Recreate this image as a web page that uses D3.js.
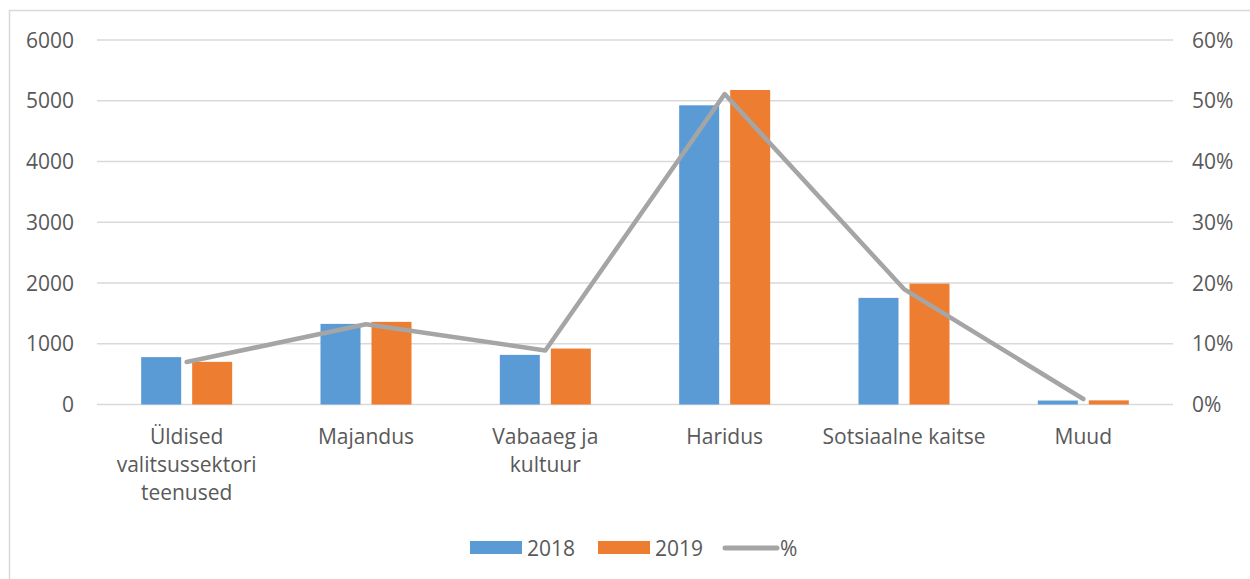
<!DOCTYPE html>
<html>
<head>
<meta charset="utf-8">
<script src="https://cdn.jsdelivr.net/npm/d3@7"></script>
<style>
  body { margin: 0; background: #fff; }
  text { font-family: "Open Sans", sans-serif; fill: #595959; }
</style>
</head>
<body>
<div id="chart"></div>
<script>
// chart data
const categories = [
  ["Üldised", "valitsussektori", "teenused"],
  ["Majandus"],
  ["Vabaaeg ja", "kultuur"],
  ["Haridus"],
  ["Sotsiaalne kaitse"],
  ["Muud"]
];
const values2018 = [780, 1327, 817, 4925, 1755, 65];
const values2019 = [702, 1360, 921, 5177, 1990, 68];
const percent = [0.07, 0.132, 0.089, 0.511, 0.19, 0.009];
const leftTicks = [0, 1000, 2000, 3000, 4000, 5000, 6000];
const rightTicks = [0, 0.1, 0.2, 0.3, 0.4, 0.5, 0.6];

const width = 1250, height = 579;
const margin = {top: 40, left: 97, right: 80, bottom: 174.5};
const blue = "#5b9bd5", orange = "#ed7d31", grey = "#a5a5a5";
const fontSize = "21px";

let svg = d3.select("#chart").append("svg")
  .attr("width", width)
  .attr("height", height);

// outer frame (only top and left visible)
svg.append("rect")
  .attr("x", 9.5).attr("y", 10.5)
  .attr("width", 1300).attr("height", 700)
  .style("fill", "none")
  .style("stroke", "#d9d9d9")
  .style("stroke-width", "1.5px");

let x0 = d3.scaleBand()
  .domain(d3.range(categories.length))
  .range([margin.left, width - margin.right + 3]);

let yLeft = d3.scaleLinear()
  .domain([0, 6000])
  .range([height - margin.bottom, margin.top]);

let yRight = d3.scaleLinear()
  .domain([0, 0.6])
  .range([height - margin.bottom, margin.top]);

// gridlines
svg.append("g").selectAll("line")
  .data(leftTicks).enter().append("line")
  .attr("x1", x0.range()[0])
  .attr("x2", x0.range()[1])
  .attr("y1", d => yLeft(d))
  .attr("y2", d => yLeft(d))
  .style("stroke", "#d9d9d9")
  .style("stroke-width", "1.5px");

// left axis labels
svg.append("g").selectAll("text")
  .data(leftTicks).enter().append("text")
  .attr("x", 74)
  .attr("y", d => yLeft(d))
  .attr("dy", "0.36em")
  .attr("text-anchor", "end")
  .style("font-size", fontSize)
  .text(d => d);

// right axis labels
svg.append("g").selectAll("text")
  .data(rightTicks).enter().append("text")
  .attr("x", 1192)
  .attr("y", d => yRight(d))
  .attr("dy", "0.36em")
  .style("font-size", fontSize)
  .text(d => Math.round(d * 100) + "%");

// bars
const barW = 40, gap = 11;
let bars = svg.append("g");
bars.selectAll(".b2018")
  .data(values2018).enter().append("rect")
  .attr("x", (d, i) => x0(i) + x0.bandwidth() / 2 - gap / 2 - barW)
  .attr("y", d => yLeft(d))
  .attr("width", barW)
  .attr("height", d => yLeft(0) - yLeft(d))
  .style("fill", blue);
bars.selectAll(".b2019")
  .data(values2019).enter().append("rect")
  .attr("x", (d, i) => x0(i) + x0.bandwidth() / 2 + gap / 2)
  .attr("y", d => yLeft(d))
  .attr("width", barW)
  .attr("height", d => yLeft(0) - yLeft(d))
  .style("fill", orange);

// percent line
let line = d3.line()
  .x((d, i) => x0(i) + x0.bandwidth() / 2)
  .y(d => yRight(d));
svg.append("path")
  .datum(percent)
  .attr("d", line)
  .style("fill", "none")
  .style("stroke", grey)
  .style("stroke-width", "4.5px")
  .style("stroke-linecap", "round")
  .style("stroke-linejoin", "round");

// category labels
let catLabels = svg.append("g").selectAll("text")
  .data(categories).enter().append("text")
  .attr("text-anchor", "middle")
  .style("font-size", fontSize);
catLabels.each(function(d, i) {
  d3.select(this).selectAll("tspan")
    .data(d).enter().append("tspan")
    .attr("x", x0(i) + x0.bandwidth() / 2)
    .attr("y", (t, j) => 444 + j * 27.8)
    .text(t => t);
});

// legend
const legendItems = [
  {label: "2018", color: blue, type: "rect", x: 470},
  {label: "2019", color: orange, type: "rect", x: 598},
  {label: "%", color: grey, type: "line", x: 723}
];
let legend = svg.append("g");
legendItems.forEach(function(item) {
  if (item.type === "rect") {
    legend.append("rect")
      .attr("x", item.x).attr("y", 541)
      .attr("width", 52).attr("height", 13)
      .style("fill", item.color);
  } else {
    legend.append("line")
      .attr("x1", item.x + 2).attr("x2", item.x + 54)
      .attr("y1", 548).attr("y2", 548)
      .style("stroke", item.color)
      .style("stroke-width", "5px")
      .style("stroke-linecap", "round");
  }
  legend.append("text")
    .attr("x", item.x + 57)
    .attr("y", 548)
    .attr("dy", "0.36em")
    .style("font-size", fontSize)
    .text(item.label);
});
</script>
</body>
</html>
